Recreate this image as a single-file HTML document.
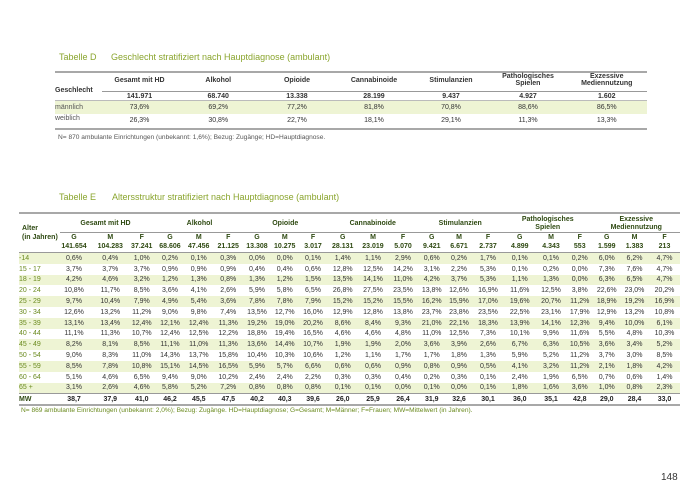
<!DOCTYPE html>
<html><head><meta charset="utf-8"><style>
body{margin:0;width:700px;height:495px;background:#fff;position:relative;overflow:hidden;font-family:"Liberation Sans",Arial,sans-serif;color:#333}
.a{position:absolute;white-space:nowrap}
.t{font-size:9px;color:#8aa52e}
.ln{position:absolute;height:0}
.g{position:absolute;display:grid;font-size:7px;align-items:center;text-align:center}
.g div{white-space:nowrap}
.hd{font-weight:bold;color:#2f4a12}
.lab{text-align:left!important;color:#6a8a1e}
.band{background:#eef4d4}
#E{grid-template-columns:36px 38px 34.5px 28.5px 28px 29.5px 29.5px 28px 27.5px 29px 30.5px 30px 30px 27.5px 27px 31px 32.5px 30px 27.5px 26.5px 29px 31px;left:19px;width:661px;height:10.8px}
.D{grid-template-columns:46px 77px 80.5px 77px 77px 77px 77px 80.5px;left:55px;width:592px}
</style></head><body>
<div class="a t" style="left:59px;top:52px">Tabelle D</div>
<div class="a t" style="left:111px;top:52px">Geschlecht stratifiziert nach Hauptdiagnose (ambulant)</div>
<div class="ln" style="left:55px;top:71px;width:592px;border-top:2px solid #a8a8a8"></div>
<div class="g D hd" style="top:73px;height:18px;color:#333"><div style="text-align:left;grid-row:span 2;align-self:center;margin-top:14px">Geschlecht</div><div>Gesamt mit HD</div><div>Alkohol</div><div>Opioide</div><div>Cannabinoide</div><div>Stimulanzien</div><div>Pathologisches<br>Spielen</div><div>Exzessive<br>Mediennutzung</div></div>
<div class="ln" style="left:102px;top:91px;width:545px;border-top:1px solid #999"></div>
<div class="g D hd" style="top:92px;height:8px;color:#333"><div></div><div>141.971</div><div>68.740</div><div>13.338</div><div>28.199</div><div>9.437</div><div>4.927</div><div>1.602</div></div>
<div class="ln" style="left:55px;top:100px;width:592px;border-top:1px solid #bbb"></div>
<div class="g D band" style="top:101px;height:13px"><div class="lab" style="color:#555">männlich</div><div>73,6%</div><div>69,2%</div><div>77,2%</div><div>81,8%</div><div>70,8%</div><div>88,6%</div><div>86,5%</div></div>
<div class="g D" style="top:114px;height:13px"><div class="lab" style="color:#555;margin-top:-4px">weiblich</div><div>26,3%</div><div>30,8%</div><div>22,7%</div><div>18,1%</div><div>29,1%</div><div>11,3%</div><div>13,3%</div></div>
<div class="ln" style="left:55px;top:128px;width:592px;border-top:2px solid #a8a8a8"></div>
<div class="a" style="left:58px;top:134px;font-size:6.6px;color:#555">N= 870 ambulante Einrichtungen (unbekannt: 1,6%); Bezug: Zugänge; HD=Hauptdiagnose.</div>

<div class="a t" style="left:59px;top:192px">Tabelle E</div>
<div class="a t" style="left:112px;top:192px">Altersstruktur stratifiziert nach Hauptdiagnose (ambulant)</div>
<div class="ln" style="left:19px;top:212px;width:661px;border-top:2px solid #a8a8a8"></div>
<div class="a hd" style="left:22px;top:224px;font-size:7px;line-height:9px">Alter<br>(in Jahren)</div>
<div class="g hd" style="left:55px;top:216px;width:625px;height:15px;grid-template-columns:101px 87px 84.5px 90.5px 84.5px 90.5px 86.5px;line-height:8px"><div>Gesamt mit HD</div><div>Alkohol</div><div>Opioide</div><div>Cannabinoide</div><div>Stimulanzien</div><div>Pathologisches<br>Spielen</div><div>Exzessive<br>Mediennutzung</div></div>
<div class="ln" style="left:60px;top:232px;width:620px;border-top:1px solid #999"></div>
<div class="g hd" id="E" style="top:233px;height:9px"><div></div><div>G</div><div>M</div><div>F</div><div>G</div><div>M</div><div>F</div><div>G</div><div>M</div><div>F</div><div>G</div><div>M</div><div>F</div><div>G</div><div>M</div><div>F</div><div>G</div><div>M</div><div>F</div><div>G</div><div>M</div><div>F</div></div>
<div class="g hd" id="E" style="top:242px;height:9px"><div></div><div>141.654</div><div>104.283</div><div>37.241</div><div>68.606</div><div>47.456</div><div>21.125</div><div>13.308</div><div>10.275</div><div>3.017</div><div>28.131</div><div>23.019</div><div>5.070</div><div>9.421</div><div>6.671</div><div>2.737</div><div>4.899</div><div>4.343</div><div>553</div><div>1.599</div><div>1.383</div><div>213</div></div>
<div class="ln" style="left:19px;top:252px;width:661px;border-top:1px solid #999"></div>
<div class="g band" id="E" style="top:253px"><div class="lab">-14</div><div>0,6%</div><div>0,4%</div><div>1,0%</div><div>0,2%</div><div>0,1%</div><div>0,3%</div><div>0,0%</div><div>0,0%</div><div>0,1%</div><div>1,4%</div><div>1,1%</div><div>2,9%</div><div>0,6%</div><div>0,2%</div><div>1,7%</div><div>0,1%</div><div>0,1%</div><div>0,2%</div><div>6,0%</div><div>6,2%</div><div>4,7%</div></div>
<div class="g" id="E" style="top:263.8px"><div class="lab">15 - 17</div><div>3,7%</div><div>3,7%</div><div>3,7%</div><div>0,9%</div><div>0,9%</div><div>0,9%</div><div>0,4%</div><div>0,4%</div><div>0,6%</div><div>12,8%</div><div>12,5%</div><div>14,2%</div><div>3,1%</div><div>2,2%</div><div>5,3%</div><div>0,1%</div><div>0,2%</div><div>0,0%</div><div>7,3%</div><div>7,6%</div><div>4,7%</div></div>
<div class="g band" id="E" style="top:274.6px"><div class="lab">18 - 19</div><div>4,2%</div><div>4,6%</div><div>3,2%</div><div>1,2%</div><div>1,3%</div><div>0,8%</div><div>1,3%</div><div>1,2%</div><div>1,5%</div><div>13,5%</div><div>14,1%</div><div>11,0%</div><div>4,2%</div><div>3,7%</div><div>5,3%</div><div>1,1%</div><div>1,3%</div><div>0,0%</div><div>6,3%</div><div>6,5%</div><div>4,7%</div></div>
<div class="g" id="E" style="top:285.4px"><div class="lab">20 - 24</div><div>10,8%</div><div>11,7%</div><div>8,5%</div><div>3,6%</div><div>4,1%</div><div>2,6%</div><div>5,9%</div><div>5,8%</div><div>6,5%</div><div>26,8%</div><div>27,5%</div><div>23,5%</div><div>13,8%</div><div>12,6%</div><div>16,9%</div><div>11,6%</div><div>12,5%</div><div>3,8%</div><div>22,6%</div><div>23,0%</div><div>20,2%</div></div>
<div class="g band" id="E" style="top:296.2px"><div class="lab">25 - 29</div><div>9,7%</div><div>10,4%</div><div>7,9%</div><div>4,9%</div><div>5,4%</div><div>3,6%</div><div>7,8%</div><div>7,8%</div><div>7,9%</div><div>15,2%</div><div>15,2%</div><div>15,5%</div><div>16,2%</div><div>15,9%</div><div>17,0%</div><div>19,6%</div><div>20,7%</div><div>11,2%</div><div>18,9%</div><div>19,2%</div><div>16,9%</div></div>
<div class="g" id="E" style="top:307px"><div class="lab">30 - 34</div><div>12,6%</div><div>13,2%</div><div>11,2%</div><div>9,0%</div><div>9,8%</div><div>7,4%</div><div>13,5%</div><div>12,7%</div><div>16,0%</div><div>12,9%</div><div>12,8%</div><div>13,8%</div><div>23,7%</div><div>23,8%</div><div>23,5%</div><div>22,5%</div><div>23,1%</div><div>17,9%</div><div>12,9%</div><div>13,2%</div><div>10,8%</div></div>
<div class="g band" id="E" style="top:317.8px"><div class="lab">35 - 39</div><div>13,1%</div><div>13,4%</div><div>12,4%</div><div>12,1%</div><div>12,4%</div><div>11,3%</div><div>19,2%</div><div>19,0%</div><div>20,2%</div><div>8,6%</div><div>8,4%</div><div>9,3%</div><div>21,0%</div><div>22,1%</div><div>18,3%</div><div>13,9%</div><div>14,1%</div><div>12,3%</div><div>9,4%</div><div>10,0%</div><div>6,1%</div></div>
<div class="g" id="E" style="top:328.6px"><div class="lab">40 - 44</div><div>11,1%</div><div>11,3%</div><div>10,7%</div><div>12,4%</div><div>12,5%</div><div>12,2%</div><div>18,8%</div><div>19,4%</div><div>16,5%</div><div>4,6%</div><div>4,6%</div><div>4,8%</div><div>11,0%</div><div>12,5%</div><div>7,3%</div><div>10,1%</div><div>9,9%</div><div>11,6%</div><div>5,5%</div><div>4,8%</div><div>10,3%</div></div>
<div class="g band" id="E" style="top:339.4px"><div class="lab">45 - 49</div><div>8,2%</div><div>8,1%</div><div>8,5%</div><div>11,1%</div><div>11,0%</div><div>11,3%</div><div>13,6%</div><div>14,4%</div><div>10,7%</div><div>1,9%</div><div>1,9%</div><div>2,0%</div><div>3,6%</div><div>3,9%</div><div>2,6%</div><div>6,7%</div><div>6,3%</div><div>10,5%</div><div>3,6%</div><div>3,4%</div><div>5,2%</div></div>
<div class="g" id="E" style="top:350.2px"><div class="lab">50 - 54</div><div>9,0%</div><div>8,3%</div><div>11,0%</div><div>14,3%</div><div>13,7%</div><div>15,8%</div><div>10,4%</div><div>10,3%</div><div>10,6%</div><div>1,2%</div><div>1,1%</div><div>1,7%</div><div>1,7%</div><div>1,8%</div><div>1,3%</div><div>5,9%</div><div>5,2%</div><div>11,2%</div><div>3,7%</div><div>3,0%</div><div>8,5%</div></div>
<div class="g band" id="E" style="top:361px"><div class="lab">55 - 59</div><div>8,5%</div><div>7,8%</div><div>10,8%</div><div>15,1%</div><div>14,5%</div><div>16,5%</div><div>5,9%</div><div>5,7%</div><div>6,6%</div><div>0,6%</div><div>0,6%</div><div>0,9%</div><div>0,8%</div><div>0,9%</div><div>0,5%</div><div>4,1%</div><div>3,2%</div><div>11,2%</div><div>2,1%</div><div>1,8%</div><div>4,2%</div></div>
<div class="g" id="E" style="top:371.8px"><div class="lab">60 - 64</div><div>5,1%</div><div>4,6%</div><div>6,5%</div><div>9,4%</div><div>9,0%</div><div>10,2%</div><div>2,4%</div><div>2,4%</div><div>2,2%</div><div>0,3%</div><div>0,3%</div><div>0,4%</div><div>0,2%</div><div>0,3%</div><div>0,1%</div><div>2,4%</div><div>1,9%</div><div>6,5%</div><div>0,7%</div><div>0,6%</div><div>1,4%</div></div>
<div class="g band" id="E" style="top:382.6px"><div class="lab">65 +</div><div>3,1%</div><div>2,6%</div><div>4,6%</div><div>5,8%</div><div>5,2%</div><div>7,2%</div><div>0,8%</div><div>0,8%</div><div>0,8%</div><div>0,1%</div><div>0,1%</div><div>0,0%</div><div>0,1%</div><div>0,0%</div><div>0,1%</div><div>1,8%</div><div>1,6%</div><div>3,6%</div><div>1,0%</div><div>0,8%</div><div>2,3%</div></div>
<div class="ln" style="left:19px;top:393.4px;width:661px;border-top:1px solid #999"></div>
<div class="g hd" id="E" style="top:394px;color:#222"><div class="lab" style="color:#2f4a12">MW</div><div>38,7</div><div>37,9</div><div>41,0</div><div>46,2</div><div>45,5</div><div>47,5</div><div>40,2</div><div>40,3</div><div>39,6</div><div>26,0</div><div>25,9</div><div>26,4</div><div>31,9</div><div>32,6</div><div>30,1</div><div>36,0</div><div>35,1</div><div>42,8</div><div>29,0</div><div>28,4</div><div>33,0</div></div>
<div class="ln" style="left:19px;top:404px;width:661px;border-top:2px solid #a8a8a8"></div>
<div class="a" style="left:21px;top:407px;font-size:6.6px;color:#6a8a1e">N= 869 ambulante Einrichtungen (unbekannt: 2,0%); Bezug: Zugänge. HD=Hauptdiagnose; G=Gesamt; M=Männer; F=Frauen; MW=Mittelwert (in Jahren).</div>
<div class="a" style="left:661px;top:472px;font-size:10px;color:#333">148</div>
</body></html>
